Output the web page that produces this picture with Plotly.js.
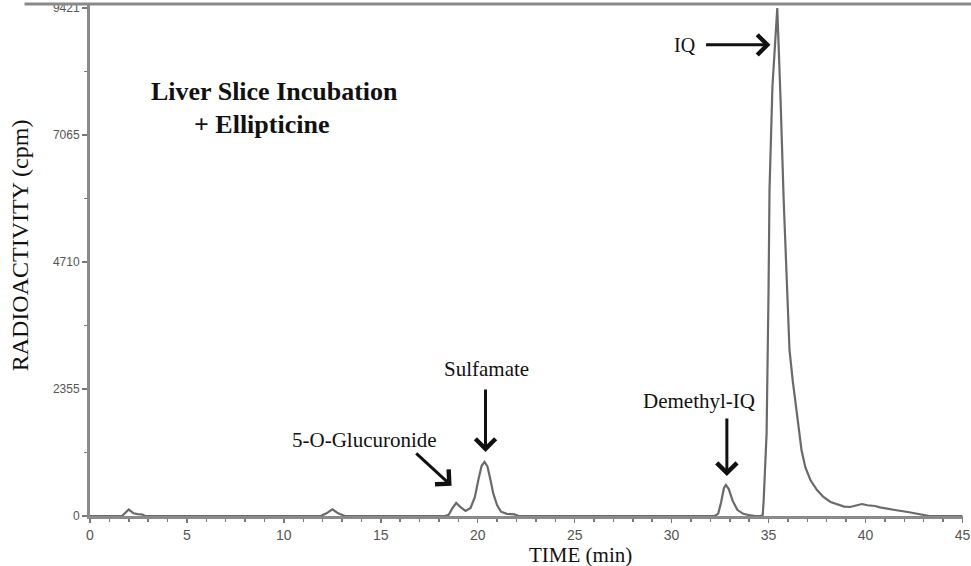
<!DOCTYPE html>
<html>
<head>
<meta charset="utf-8">
<script src="https://cdn.plot.ly/plotly-3.0.1.min.js"></script>
<style>html,body{margin:0;padding:0;background:#fff;}#chart{width:971px;height:566px;}</style>
</head>
<body>
<div id="chart"></div>
<script>
// Retention time (min)
var timeMin = [0, 1.65, 2.0, 2.25, 2.45, 2.67, 2.85,
  11.9, 12.2, 12.5, 12.8, 13.15,
  18.3, 18.5, 18.7, 18.89, 19.1, 19.37,
  19.63, 19.85, 20.05, 20.2, 20.35, 20.5, 20.65, 20.8, 21.0, 21.2, 21.5, 21.9, 22.1,
  32.2, 32.4, 32.55, 32.7, 32.8, 32.95, 33.15, 33.4, 33.7, 34.1, 34.3,
  34.6, 34.7, 34.75, 34.9, 35.0, 35.05, 35.2, 35.45,
  35.62, 35.78, 35.98, 36.08, 36.25, 36.44, 36.7, 36.9, 37.16, 37.5, 37.83, 38.2, 38.6, 38.9, 39.21,
  39.5, 39.82, 40.1, 40.49, 40.75, 41.0, 41.52, 42.18, 42.6, 43.05, 43.3, 45];
// Radioactivity (cpm)
var radioactivity = [0, 0, 120, 50, 35, 30, 0,
  0, 50, 125, 50, 0,
  0, 20, 150, 241, 170, 93,
  150, 350, 700, 930, 1002, 920, 680, 420, 200, 80, 40, 30, 0,
  0, 40, 250, 520, 575, 500, 280, 110, 40, 10, 0,
  0, 20, 300, 1540, 4190, 6050, 7960, 9421,
  7717, 5862, 4007, 3080, 2500, 1966, 1224, 900, 668, 480, 352, 260, 204, 175, 167,
  200, 222, 200, 185, 160, 148, 111, 74, 45, 19, 0, 0];

var xTickVals = [0, 5, 10, 15, 20, 25, 30, 35, 40, 45];
var yTickVals = [0, 2355, 4710, 7065, 9421];
var yMinorTickVals = [1177.5, 3532.5, 5887.5, 8243];

var trace = {
  x: timeMin, y: radioactivity, type: 'scatter', mode: 'lines',
  line: {color: '#6a6a6a', width: 2.2}, hoverinfo: 'skip', cliponaxis: false
};

var serif = 'Liberation Serif, Times New Roman, serif';
var sans = 'Liberation Sans, Arial, sans-serif';

function arrow(x, y, ax, ay) {
  return {x: x, y: y, ax: ax, ay: ay, xref: 'x', yref: 'y', axref: 'x', ayref: 'y',
    text: '', showarrow: true, arrowhead: 4, arrowwidth: 3, arrowsize: 1.3,
    arrowcolor: '#111', standoff: 0, startstandoff: 0};
}
function label(x, y, txt, size, bold) {
  return {x: x, y: y, xref: 'x', yref: 'y', text: bold ? '<b>' + txt + '</b>' : txt,
    showarrow: false, xanchor: 'center', yanchor: 'middle',
    font: {family: serif, size: size, color: '#111'}};
}

var layout = {
  width: 971, height: 566,
  margin: {l: 90, r: 8, t: 4, b: 50},
  paper_bgcolor: '#fff', plot_bgcolor: '#fff',
  showlegend: false,
  xaxis: {
    range: [0, 45.03], tickvals: xTickVals, ticks: 'outside', ticklen: 4, tickwidth: 1.5,
    tickcolor: '#777', showline: true, linecolor: '#8a8a8a', linewidth: 3,
    showgrid: false, zeroline: false, ticklabeloverflow: 'allow',
    minor: {dtick: 1, ticks: 'outside', ticklen: 3, tickcolor: '#777', tickwidth: 1.5, showgrid: false},
    tickfont: {family: sans, size: 14, color: '#555'}
  },
  yaxis: {
    range: [0, 9495], tickvals: yTickVals, ticks: 'outside', ticklen: 5, tickwidth: 1.5,
    tickcolor: '#777', showline: true, linecolor: '#8a8a8a', linewidth: 3,
    showgrid: false, zeroline: false, ticklabeloverflow: 'allow',
    minor: {tickvals: yMinorTickVals, ticks: 'outside', ticklen: 3, tickcolor: '#777', tickwidth: 1.5, showgrid: false},
    tickfont: {family: sans, size: 12, color: '#555'}
  },
  shapes: [
    {type: 'line', xref: 'paper', yref: 'paper', x0: -0.075, x1: 1.02, y0: 1, y1: 1,
      line: {color: '#8a8a8a', width: 3}}
  ],
  annotations: [
    {xref: 'paper', yref: 'paper', x: 0.5, y: -0.076, xshift: 54, text: 'TIME (min)', showarrow: false,
      xanchor: 'center', yanchor: 'middle', font: {family: serif, size: 21, color: '#111'}},
    {xref: 'paper', yref: 'paper', x: -0.08, y: 0.529, text: 'RADIOACTIVITY (cpm)', showarrow: false,
      textangle: -90, xanchor: 'center', yanchor: 'middle', font: {family: serif, size: 24, color: '#111'}},
    label(9.5, 7865, 'Liver Slice Incubation', 26, true),
    label(8.85, 7253, '+ Ellipticine', 26, true),
    label(30.7, 8737, 'IQ', 20, false),
    arrow(35.1, 8737, 31.7, 8737),
    label(20.45, 2727, 'Sulfamate', 21, false),
    arrow(20.4, 1187, 20.4, 2374),
    label(14.15, 1410, '5-O-Glucuronide', 21, false),
    arrow(18.65, 560, 16.75, 1187),
    label(31.4, 2133, 'Demethyl-IQ', 21, false),
    arrow(32.85, 740, 32.85, 1836)
  ]
};

Plotly.newPlot('chart', [trace], layout, {displayModeBar: false, staticPlot: true});
</script>
</body>
</html>
